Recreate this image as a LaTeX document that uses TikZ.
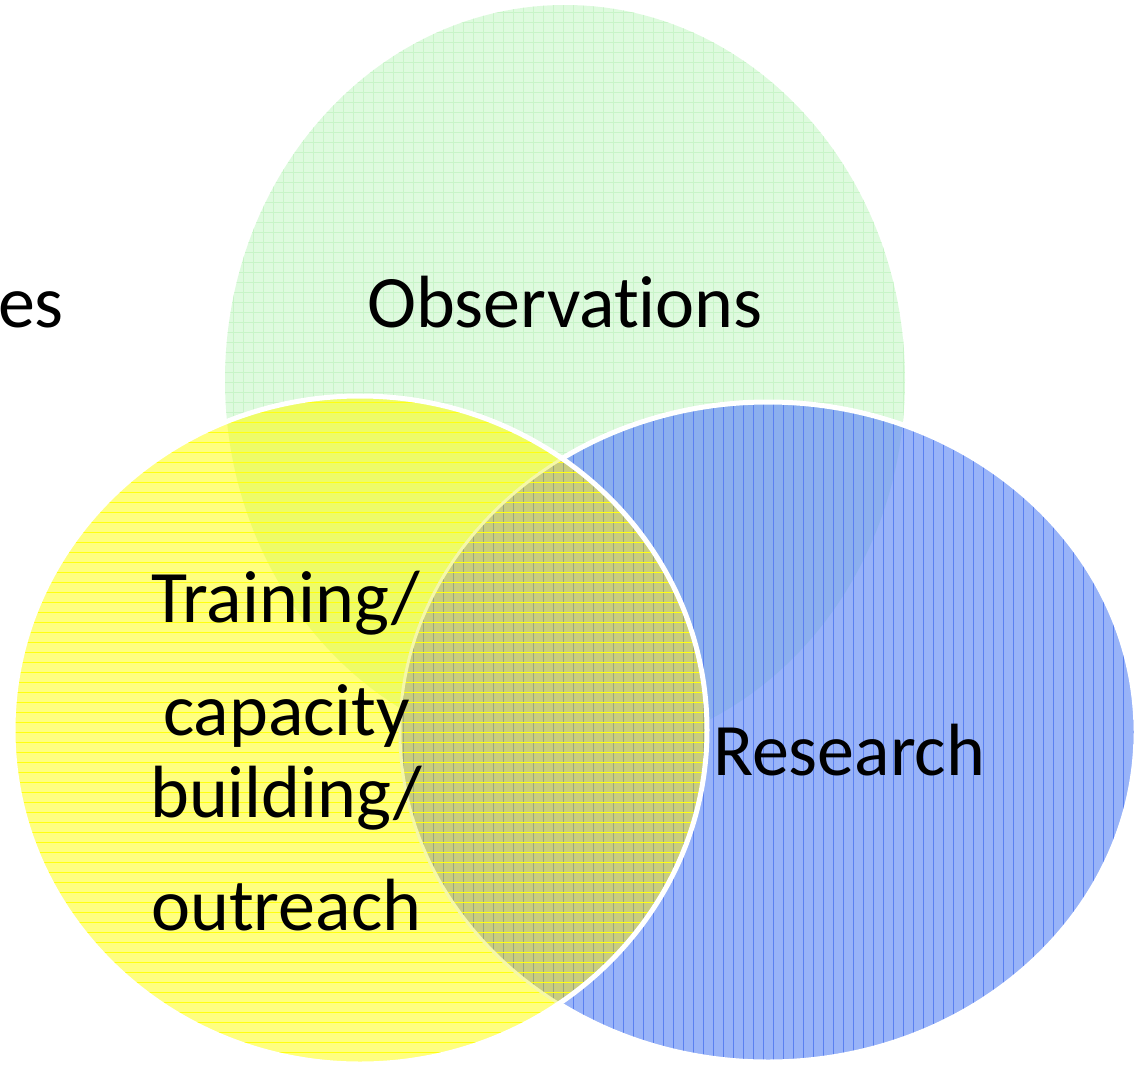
\documentclass[tikz,border=0pt]{standalone}
\usepackage{fontspec}
\setmainfont{Carlito}[Ligatures={NoCommon}]
\definecolor{gfill}{HTML}{DEFADE}
\definecolor{gline}{HTML}{C8F4C8}
\definecolor{bfill}{HTML}{98B3F8}
\definecolor{bgfill}{HTML}{8BAFEE}
\definecolor{bline}{HTML}{5A80F0}
\definecolor{yfill}{HTML}{FFFF80}
\definecolor{ygfill}{HTML}{EEFC68}
\definecolor{yline}{HTML}{FFFF10}
\definecolor{ofill}{HTML}{C9CD7E}
\definecolor{oline}{HTML}{9AA47E}
\definecolor{paleedge}{HTML}{F6F8A8}
\begin{document}
\begin{tikzpicture}[x=1pt,y=-1pt,
  txt/.style={inner sep=0pt, font=\fontsize{74}{88}\selectfont, text=black},
  hatch/.style={line width=1pt},
  rim/.style={draw=white, line width=5pt}]
\useasboundingbox (0,0) rectangle (1136,1066);
\clip (0,0) rectangle (1136,1066);
\coordinate (gc) at (565,380);
\coordinate (bc) at (768,732);
\coordinate (yc) at (360,730);
% green
\fill[gfill] (gc) ellipse [x radius=340, y radius=375];
\begin{scope}
  \clip (gc) ellipse [x radius=340, y radius=375];
  \foreach \i in {0,...,114} {
    \draw[hatch, gline] (\i*10+3.5,0) -- (\i*10+3.5,1066);
    \draw[hatch, gline] (0,\i*10+2.5) -- (1136,\i*10+2.5);
  }
\end{scope}
% blue
\fill[bfill] (bc) ellipse [x radius=368, y radius=330];
\begin{scope}
  \clip (bc) ellipse [x radius=368, y radius=330];
  \fill[bgfill] (gc) ellipse [x radius=340, y radius=375];
  \foreach \i in {0,...,114}
    \draw[hatch, bline] (\i*10+3.5,0) -- (\i*10+3.5,1066);
\end{scope}
\draw[rim] (bc) ellipse [x radius=368, y radius=330];
% yellow
\fill[yfill] (yc) ellipse [x radius=347, y radius=334];
\begin{scope}
  \clip (yc) ellipse [x radius=347, y radius=334];
  \fill[ygfill] (gc) ellipse [x radius=340, y radius=375];
  \begin{scope}
    \clip (bc) ellipse [x radius=368, y radius=330];
    \fill[ofill] (bc) ellipse [x radius=368, y radius=330];
    \foreach \i in {0,...,114}
      \draw[hatch, oline] (\i*10+3.5,0) -- (\i*10+3.5,1066);
  \end{scope}
  \foreach \i in {0,...,114}
    \draw[hatch, yline] (0,\i*10+2.5) -- (1136,\i*10+2.5);
  \draw[draw=paleedge, line width=3pt] (bc) ellipse [x radius=368, y radius=330];
\end{scope}
\draw[rim] (yc) ellipse [x radius=347, y radius=334];
% texts
\node[txt, anchor=base east] (es) at (64,327) {es};
\node[txt, anchor=base] (obs) at (565,327) {Observations};
\node[txt, anchor=base] (res) at (849,775) {Research};
\node[txt, anchor=base west] (t1) at (151,622) {Training/};
\node[txt, anchor=base west] (t2) at (163,735) {capacity};
\node[txt, anchor=base west] (t3) at (150,817) {building/};
\node[txt, anchor=base west] (t4) at (151,930) {outreach};
\end{tikzpicture}
\end{document}
